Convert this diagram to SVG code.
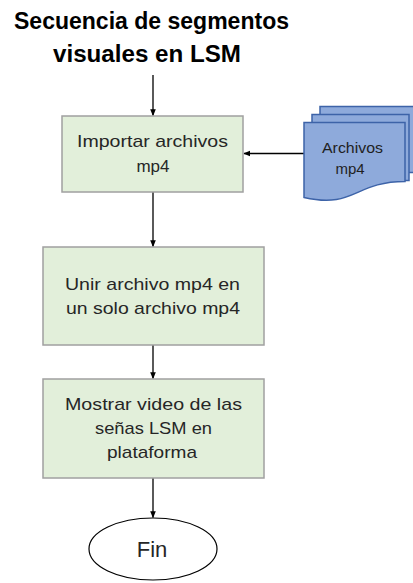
<svg xmlns="http://www.w3.org/2000/svg" width="413" height="583" viewBox="0 0 413 583">
  <style>
    .title { font-family: "Liberation Sans", "Open Sans", sans-serif; font-weight: bold; font-size: 23px; fill: #000; }
    .label { font-family: "Liberation Sans", "Open Sans", sans-serif; font-size: 17px; fill: #262626; }
    .doc-label { font-family: "Liberation Sans", "Open Sans", sans-serif; font-size: 15px; fill: #1f1f1f; }
    .process { fill: #e2efda; stroke: #a0a0a0; stroke-width: 1.5; }
    .doc { fill: #8eaadb; stroke: #3d63a8; stroke-width: 1.5; }
    .terminal { fill: #ffffff; stroke: #000; stroke-width: 1.2; }
    .flow { stroke: #000; stroke-width: 1.3; fill: none; marker-end: url(#arrow); }
  </style>
  <defs>
    <marker id="arrow" viewBox="0 0 10 10" refX="9" refY="5" markerWidth="7" markerHeight="7" orient="auto" markerUnits="userSpaceOnUse">
      <path d="M0,1 L10,5 L0,9 Z" fill="#000"/>
    </marker>
  </defs>

  <rect width="413" height="583" fill="#ffffff"/>

  <g id="title">
    <text class="title" x="14" y="29" textLength="275" lengthAdjust="spacingAndGlyphs">Secuencia de segmentos</text>
    <text class="title" x="53" y="62" textLength="188" lengthAdjust="spacingAndGlyphs">visuales en LSM</text>
  </g>

  <g id="connectors">
    <line class="flow" x1="153" y1="75" x2="153" y2="115.5"/>
    <line class="flow" x1="304" y1="153.5" x2="244" y2="153.5"/>
    <line class="flow" x1="153" y1="192" x2="153" y2="246.5"/>
    <line class="flow" x1="153" y1="345" x2="153" y2="378.5"/>
    <line class="flow" x1="153" y1="478" x2="153" y2="517.5"/>
  </g>

  <g id="importar">
    <rect class="process" x="62" y="116" width="181" height="76"/>
    <text class="label" x="77" y="147" textLength="151" lengthAdjust="spacingAndGlyphs">Importar archivos</text>
    <text class="label" x="153" y="172" text-anchor="middle">mp4</text>
  </g>

  <g id="archivos">
    <!-- stacked back pages -->
    <rect class="doc" x="320" y="106.5" width="95" height="66"/>
    <rect class="doc" x="312" y="114.5" width="97" height="66"/>
    <!-- front page with wavy bottom -->
    <path class="doc" d="M304,122.5 H405 V181.5 C354.5,181.5 354.5,209 304,197.5 Z"/>
    <text class="doc-label" x="352.5" y="153" text-anchor="middle" textLength="61" lengthAdjust="spacingAndGlyphs">Archivos</text>
    <text class="doc-label" x="350" y="173.5" text-anchor="middle">mp4</text>
  </g>

  <g id="unir">
    <rect class="process" x="43" y="247" width="221" height="98"/>
    <text class="label" x="65" y="290" textLength="175" lengthAdjust="spacingAndGlyphs">Unir archivo mp4 en</text>
    <text class="label" x="66" y="314" textLength="174" lengthAdjust="spacingAndGlyphs">un solo archivo mp4</text>
  </g>

  <g id="mostrar">
    <rect class="process" x="43" y="379" width="221" height="99"/>
    <text class="label" x="65" y="410" textLength="177" lengthAdjust="spacingAndGlyphs">Mostrar video de las</text>
    <text class="label" x="95" y="434" textLength="117" lengthAdjust="spacingAndGlyphs">señas LSM en</text>
    <text class="label" x="107" y="458" textLength="90" lengthAdjust="spacingAndGlyphs">plataforma</text>
  </g>

  <g id="fin">
    <ellipse class="terminal" cx="153" cy="549" rx="64" ry="31"/>
    <text class="label" x="152" y="557" text-anchor="middle" style="font-size:22px">Fin</text>
  </g>
</svg>
